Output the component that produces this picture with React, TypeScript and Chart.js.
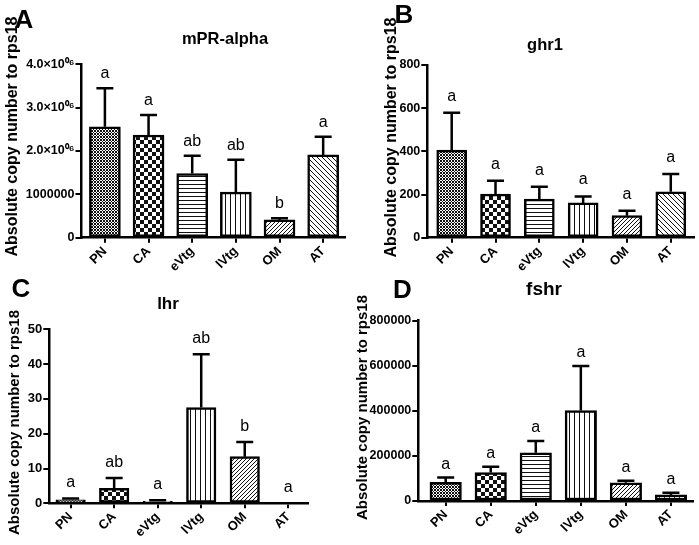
import React, { useEffect, useRef } from 'react';
import { Chart, registerables } from 'chart.js';

Chart.register(...registerables);

const FONT = '"Liberation Sans", Arial, Helvetica, sans-serif';

// ---------- data ----------
const categories = ['PN', 'CA', 'eVtg', 'lVtg', 'OM', 'AT'];

const mprMeans = [2560000, 2370000, 1480000, 1050000, 410000, 1910000];
const mprSem = [890000, 460000, 410000, 750000, 40000, 420000];
const mprLetters = ['a', 'a', 'ab', 'ab', 'b', 'a'];
const mprTickValues = [0, 1000000, 2000000, 3000000, 4000000];
const mprTickLabels = ['0', '1000000', '2.0×10⁰⁶', '3.0×10⁰⁶', '4.0×10⁰⁶'];

const ghrMeans = [406, 202, 179, 161, 102, 213];
const ghrSem = [173, 62, 57, 30, 23, 82];
const ghrLetters = ['a', 'a', 'a', 'a', 'a', 'a'];
const ghrTickValues = [0, 200, 400, 600, 800];
const ghrTickLabels = ['0', '200', '400', '600', '800'];

const lhrMeans = [1.0, 4.3, 0.6, 27.5, 13.4, 0];
const lhrSem = [0.4, 3.0, 0.3, 15.3, 4.2, 0];
const lhrLetters = ['a', 'ab', 'a', 'ab', 'b', 'a'];
const lhrTickValues = [0, 10, 20, 30, 40, 50];
const lhrTickLabels = ['0', '10', '20', '30', '40', '50'];

const fshrMeans = [83000, 126000, 214000, 401000, 81000, 27000];
const fshrSem = [21000, 26000, 52000, 198000, 9000, 10000];
const fshrLetters = ['a', 'a', 'a', 'a', 'a', 'a'];
const fshrTickValues = [0, 200000, 400000, 600000, 800000];
const fshrTickLabels = ['0', '200000', '400000', '600000', '800000'];

const yAxisTitle = 'Absolute copy number to rps18';

// ---------- patterns ----------
type PatternKind = 'fine' | 'check' | 'hlines' | 'vlines' | 'diagUp' | 'diagDown';
const patternKinds: PatternKind[] = ['fine', 'check', 'hlines', 'vlines', 'diagUp', 'diagDown'];

function makePattern(ctx: CanvasRenderingContext2D, kind: PatternKind): CanvasPattern | string {
  const c = document.createElement('canvas');
  let w = 4, h = 4;
  if (kind === 'fine') { w = 3; h = 3; }
  if (kind === 'check') { w = 8; h = 8; }
  if (kind === 'hlines') { w = 4; h = 4; }
  if (kind === 'vlines') { w = 5; h = 5; }
  if (kind === 'diagUp') { w = 4; h = 4; }
  if (kind === 'diagDown') { w = 5; h = 5; }
  c.width = w; c.height = h;
  const g = c.getContext('2d');
  if (!g) return '#888';
  g.fillStyle = '#fff';
  g.fillRect(0, 0, w, h);
  g.fillStyle = '#111';
  for (let x = 0; x < w; x++) {
    for (let y = 0; y < h; y++) {
      let on = false;
      if (kind === 'fine') on = (x + y) % 3 === 0 || ((x - y) % 3 + 3) % 3 === 0;
      if (kind === 'check') on = (Math.floor(x / 4) + Math.floor(y / 4)) % 2 === 0;
      if (kind === 'hlines') on = y === 0;
      if (kind === 'vlines') on = x === 0;
      if (kind === 'diagUp') on = (x + y) % 4 === 0;
      if (kind === 'diagDown') on = ((x - y) % 5 + 5) % 5 === 0;
      if (on) g.fillRect(x, y, 1, 1);
    }
  }
  return ctx.createPattern(c, 'repeat') || '#888';
}

// ---------- panel config ----------
interface PanelCfg {
  letter: string;
  title: string;
  means: number[];
  sem: number[];
  letters: string[];
  tickValues: number[];
  tickLabels: string[];
  canvasLeft: number;
  canvasTop: number;
  canvasW: number;
  canvasH: number;
  area: { left: number; right: number; top: number; bottom: number };
  xMin: number;
  xMax: number;
  barThickness: number;
  letterPos: [number, number];
  titlePos: [number, number];
  titleSize: number;
  yTitlePos: [number, number];
  yTitleSize: number;
  letterOffset: number;
  yTickSize: number;
}

const panels: PanelCfg[] = [
  {
    letter: 'A', title: 'mPR-alpha', means: mprMeans, sem: mprSem, letters: mprLetters,
    tickValues: mprTickValues, tickLabels: mprTickLabels,
    canvasLeft: 0, canvasTop: 0, canvasW: 349, canvasH: 272,
    area: { left: 81.5, right: 345, top: 64.3, bottom: 237.7 },
    xMin: -0.536, xMax: 5.5, barThickness: 31,
    letterPos: [24, 28], titlePos: [225, 44], titleSize: 16.5,
    yTitlePos: [12.5, 136.5], yTitleSize: 16, letterOffset: 10, yTickSize: 12.5,
  },
  {
    letter: 'B', title: 'ghr1', means: ghrMeans, sem: ghrSem, letters: ghrLetters,
    tickValues: ghrTickValues, tickLabels: ghrTickLabels,
    canvasLeft: 349, canvasTop: 0, canvasW: 350, canvasH: 272,
    area: { left: 78.3, right: 345, top: 65, bottom: 237.7 },
    xMin: -0.557, xMax: 5.53, barThickness: 30,
    letterPos: [55, 23], titlePos: [196, 49.5], titleSize: 16.5,
    yTitlePos: [42.5, 137.5], yTitleSize: 16, letterOffset: 12, yTickSize: 12.5,
  },
  {
    letter: 'C', title: 'lhr', means: lhrMeans, sem: lhrSem, letters: lhrLetters,
    tickValues: lhrTickValues, tickLabels: lhrTickLabels,
    canvasLeft: 0, canvasTop: 272, canvasW: 349, canvasH: 273,
    area: { left: 49.3, right: 308.3, top: 57.3, bottom: 231.3 },
    xMin: -0.49, xMax: 5.46, barThickness: 29.5,
    letterPos: [21, 25], titlePos: [168, 37], titleSize: 17,
    yTitlePos: [15, 150.5], yTitleSize: 15, letterOffset: 11, yTickSize: 13,
  },
  {
    letter: 'D', title: 'fshr', means: fshrMeans, sem: fshrSem, letters: fshrLetters,
    tickValues: fshrTickValues, tickLabels: fshrTickLabels,
    canvasLeft: 349, canvasTop: 272, canvasW: 350, canvasH: 273,
    area: { left: 69.3, right: 344, top: 48.7, bottom: 229 },
    xMin: -0.608, xMax: 5.49, barThickness: 31.5,
    letterPos: [53.5, 26], titlePos: [195, 23], titleSize: 19,
    yTitlePos: [14.3, 135.5], yTitleSize: 15, letterOffset: 9, yTickSize: 12.5,
  },
];

const decorPlugin = {
  id: 'panelDecor',
  afterDatasetsDraw(chart: any, _args: any, opts: any) {
    const cfg: PanelCfg = opts.cfg;
    if (!cfg) return;
    const ctx: CanvasRenderingContext2D = chart.ctx;
    const xs = chart.scales.x;
    const ys = chart.scales.y;
    ctx.save();
    ctx.strokeStyle = '#000';
    ctx.fillStyle = '#000';
    ctx.lineWidth = 2.5;
    ctx.lineCap = 'butt';
    cfg.means.forEach((m, i) => {
      const x = xs.getPixelForValue(i);
      const y0 = ys.getPixelForValue(m);
      const y1 = ys.getPixelForValue(m + cfg.sem[i]);
      if (cfg.sem[i] > 0) {
        ctx.beginPath();
        ctx.moveTo(x, y0);
        ctx.lineTo(x, y1);
        ctx.moveTo(x - 8.5, y1);
        ctx.lineTo(x + 8.5, y1);
        ctx.stroke();
      }
      ctx.font = `16px ${FONT}`;
      ctx.textAlign = 'center';
      ctx.textBaseline = 'alphabetic';
      ctx.fillText(cfg.letters[i], x, y1 - cfg.letterOffset);
    });
    ctx.restore();
  },
  afterDraw(chart: any, _args: any, opts: any) {
    const cfg: PanelCfg = opts.cfg;
    if (!cfg) return;
    const ctx: CanvasRenderingContext2D = chart.ctx;
    ctx.save();
    ctx.fillStyle = '#000';
    ctx.textAlign = 'center';
    ctx.textBaseline = 'alphabetic';
    ctx.font = `bold 26px ${FONT}`;
    ctx.fillText(cfg.letter, cfg.letterPos[0], cfg.letterPos[1]);
    ctx.font = `bold ${cfg.titleSize}px ${FONT}`;
    ctx.fillText(cfg.title, cfg.titlePos[0], cfg.titlePos[1]);
    ctx.translate(cfg.yTitlePos[0], cfg.yTitlePos[1]);
    ctx.rotate(-Math.PI / 2);
    ctx.textBaseline = 'middle';
    ctx.font = `bold ${cfg.yTitleSize}px ${FONT}`;
    ctx.fillText(yAxisTitle, 0, 0);
    ctx.restore();
  },
};

function Panel({ cfg }: { cfg: PanelCfg }) {
  const ref = useRef<HTMLCanvasElement | null>(null);
  useEffect(() => {
    const canvas = ref.current;
    if (!canvas) return;
    const ctx = canvas.getContext('2d');
    if (!ctx) return;
    const patterns = patternKinds.map((k) => makePattern(ctx, k));
    const yMax = cfg.tickValues[cfg.tickValues.length - 1];
    const chart = new Chart(ctx, {
      type: 'bar',
      data: {
        datasets: [
          {
            data: cfg.means.map((v, i) => ({ x: i, y: v })),
            backgroundColor: patterns as any,
            borderColor: '#000',
            borderWidth: 2.5,
            borderSkipped: false,
            barThickness: cfg.barThickness,
          } as any,
        ],
      },
      options: {
        responsive: false,
        animation: false,
        events: [],
        devicePixelRatio: 1,
        layout: {
          padding: { top: cfg.area.top, right: cfg.canvasW - cfg.area.right, left: 0, bottom: 0 },
        },
        plugins: {
          legend: { display: false },
          title: { display: false },
          tooltip: { enabled: false },
          panelDecor: { cfg },
        } as any,
        scales: {
          x: {
            type: 'linear',
            min: cfg.xMin,
            max: cfg.xMax,
            offset: false,
            afterBuildTicks: (s: any) => {
              s.ticks = categories.map((_, i) => ({ value: i }));
            },
            afterFit: (s: any) => {
              s.height = cfg.canvasH - cfg.area.bottom;
            },
            ticks: {
              autoSkip: false,
              minRotation: 45,
              maxRotation: 45,
              color: '#000',
              padding: 1,
              font: { family: FONT, size: 13, weight: 'bold' },
              callback: (v: any) => categories[Math.round(Number(v))] ?? '',
            },
            grid: { drawOnChartArea: false, drawTicks: true, tickLength: 5, color: '#000', lineWidth: 2, offset: false },
            border: { display: true, color: '#000', width: 2.5 },
          },
          y: {
            type: 'linear',
            min: 0,
            max: yMax,
            afterBuildTicks: (s: any) => {
              s.ticks = cfg.tickValues.map((v) => ({ value: v }));
            },
            afterFit: (s: any) => {
              s.width = cfg.area.left;
            },
            ticks: {
              color: '#000',
              padding: 1,
              font: { family: FONT, size: cfg.yTickSize, weight: 'bold' },
              callback: (v: any) => {
                const idx = cfg.tickValues.indexOf(Number(v));
                return idx >= 0 ? cfg.tickLabels[idx] : '';
              },
            },
            grid: { drawOnChartArea: false, drawTicks: true, tickLength: 6, color: '#000', lineWidth: 2 },
            border: { display: true, color: '#000', width: 2.5 },
          },
        } as any,
      },
      plugins: [decorPlugin as any],
    });
    return () => chart.destroy();
  }, [cfg]);
  return (
    <canvas
      ref={ref}
      width={cfg.canvasW}
      height={cfg.canvasH}
      style={{
        position: 'absolute',
        left: cfg.canvasLeft,
        top: cfg.canvasTop,
        width: cfg.canvasW,
        height: cfg.canvasH,
      }}
    />
  );
}

export default function App() {
  return (
    <div
      style={{
        position: 'fixed',
        left: 0,
        top: 0,
        width: 699,
        height: 545,
        background: '#fff',
        overflow: 'hidden',
      }}
    >
      {panels.map((p) => (
        <Panel key={p.letter} cfg={p} />
      ))}
    </div>
  );
}
